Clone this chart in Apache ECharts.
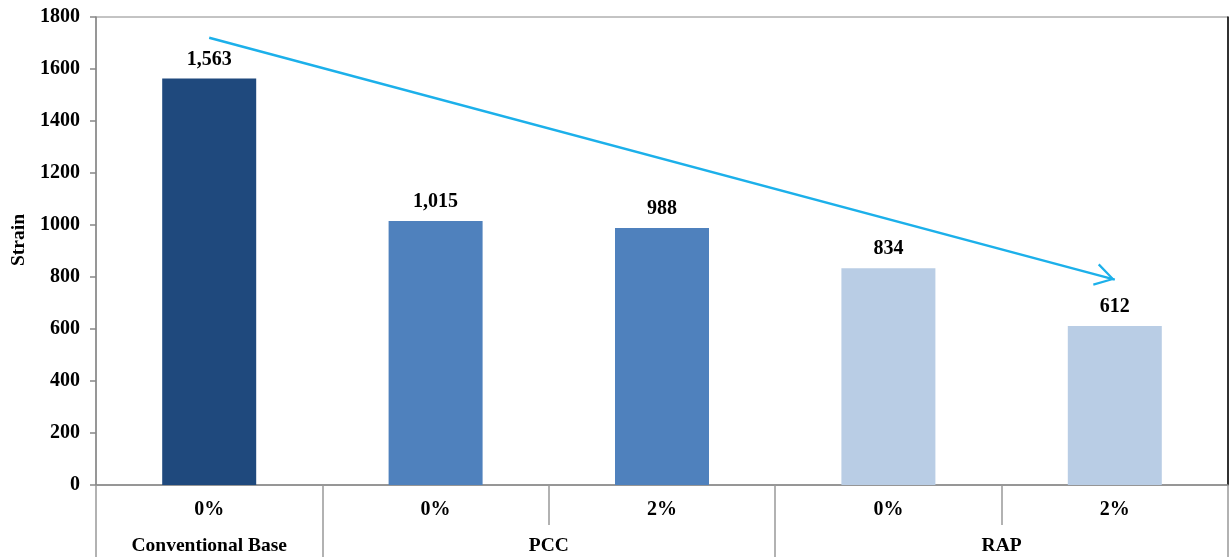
<!DOCTYPE html>
<html>
<head>
<meta charset="utf-8">
<script src="https://cdn.jsdelivr.net/npm/echarts@6/dist/echarts.min.js"></script>
<style>
  html, body { margin: 0; padding: 0; background: #fff; }
  #chart { width: 1231px; height: 557px; }
</style>
</head>
<body>
<div id="chart"></div>
<script>
// Strain per mix: group, additive level, value
const groupNames = ['Conventional Base', 'PCC', 'RAP'];
const groupSizes = [1, 2, 2];
const levels = ['0%', '0%', '2%', '0%', '2%'];
const strainValues = [1563, 1015, 988, 834, 612];
const barColors = ['#1F497D', '#4F81BD', '#4F81BD', '#B9CDE5', '#B9CDE5'];
const yTicks = { min: 0, max: 1800, step: 200 };
// trend arrow, in data units: [category index, strain]
const trendStart = [0, 1720];
const trendEnd = [4, 790];

const FONT = 'Liberation Serif';

// Lower axis: one slot per bar
const barKeys = levels.map((lv, i) => 'bar' + i);

// Group axis: half-category grid (boundaryGap false), labels at group centres,
// long separators at group boundaries
const halfSlots = [];
for (let k = 0; k <= 2 * levels.length; k++) halfSlots.push('');
const boundaryIdx = new Set([0]);
let start = 0;
groupNames.forEach((g, i) => {
  halfSlots[2 * start + groupSizes[i]] = g;
  start += groupSizes[i];
  boundaryIdx.add(2 * start);
});

const chart = echarts.init(document.getElementById('chart'), null, { renderer: 'canvas' });

chart.setOption({
  animation: false,
  backgroundColor: '#fff',
  grid: {
    left: 96, right: 1, top: 17, bottom: 72,
    show: true, borderColor: '#888', borderWidth: 1, backgroundColor: 'transparent'
  },
  xAxis: [
    {
      type: 'category',
      position: 'bottom',
      data: barKeys,
      axisLine: { show: true, lineStyle: { color: '#888', width: 1.5 } },
      axisTick: { show: true, length: 40, lineStyle: { color: '#999', width: 1.5 } },
      axisLabel: {
        margin: 15,
        formatter: (v, i) => levels[i],
        color: '#000', fontFamily: FONT, fontWeight: 'bold', fontSize: 20
      }
    },
    {
      type: 'category',
      position: 'bottom',
      boundaryGap: false,
      data: halfSlots,
      axisLine: { show: false },
      axisTick: {
        show: true, length: 72,
        interval: (idx) => boundaryIdx.has(idx),
        lineStyle: { color: '#999', width: 1.5 }
      },
      axisLabel: {
        margin: 51, interval: 0,
        color: '#000', fontFamily: FONT, fontWeight: 'bold', fontSize: 19.5
      }
    }
  ],
  yAxis: [
    {
      type: 'value',
      min: yTicks.min, max: yTicks.max, interval: yTicks.step,
      name: 'Strain',
      nameLocation: 'middle',
      nameGap: 62,
      nameRotate: 90,
      nameTextStyle: {
        color: '#000', fontFamily: FONT, fontWeight: 'bold', fontSize: 19.5,
        padding: [0, 0, 0, 22]
      },
      axisLine: { show: true, lineStyle: { color: '#888', width: 1.5 } },
      axisTick: { show: true, length: 6, lineStyle: { color: '#888', width: 1.5 } },
      splitLine: { show: false },
      axisLabel: {
        margin: 16,
        formatter: (v) => String(v),
        color: '#000', fontFamily: FONT, fontWeight: 'bold', fontSize: 20
      }
    },
    {
      type: 'value',
      position: 'right',
      min: yTicks.min, max: yTicks.max, interval: yTicks.step,
      axisLine: { show: true, lineStyle: { color: '#000', width: 1.5 } },
      axisTick: { show: false },
      axisLabel: { show: false },
      splitLine: { show: false }
    }
  ],
  series: [
    {
      type: 'bar',
      xAxisIndex: 0,
      yAxisIndex: 0,
      barWidth: 94,
      data: strainValues.map((v, i) => ({ value: v, itemStyle: { color: barColors[i] } })),
      label: {
        show: true,
        position: 'top',
        distance: 9,
        formatter: (p) => p.value.toLocaleString('en-US'),
        color: '#000', fontFamily: FONT, fontWeight: 'bold', fontSize: 20
      },
      markLine: {
        silent: true,
        symbol: ['none', 'path://M10,0 L20,17 L18.2,18 L10,3.6 L1.8,18 L0,17 Z'],
        symbolSize: [23, 20],
        symbolOffset: [0, [0, '50%']],
        label: { show: false },
        lineStyle: { color: '#1CB0EA', width: 2.5, type: 'solid' },
        data: [[{ coord: trendStart }, { coord: trendEnd }]]
      }
    }
  ]
});
</script>
</body>
</html>
